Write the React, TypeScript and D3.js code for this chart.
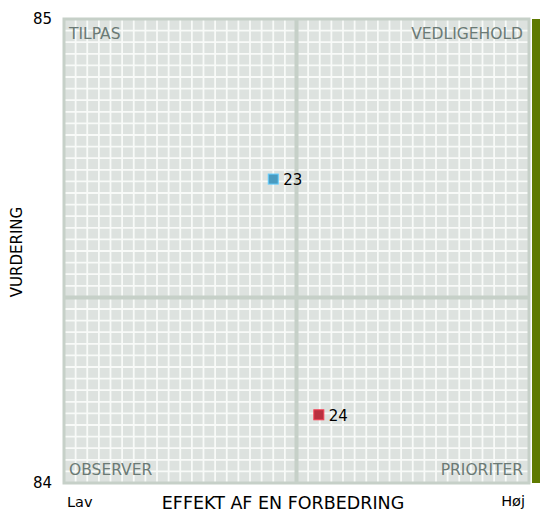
import React, { useEffect, useRef } from 'react';
import * as d3 from 'd3';

// quadrant names, clockwise from top-left
const quadrantNames = ['TILPAS', 'VEDLIGEHOLD', 'PRIORITER', 'OBSERVER'];
const pointIds = ['23', '24'];
const effectValues = [0.45, 0.548];
const ratingValues = [84.655, 84.147];
const pointColors = ['#4a9bc0', '#b8303f'];
const yTicks = [84, 85];
const xEndLabels = ['Lav', 'Høj'];
const ratingSplit = 84.4;

const W = 540;
const H = 513;

const App = () => {
  const ref = useRef<SVGSVGElement>(null);

  useEffect(() => {
    const svg = d3.select(ref.current);
    svg.selectAll('*').remove();

    const left = 64, right = 529, top = 19, bottom = 483;
    const x = d3.scaleLinear().domain([0, 1]).range([left, right]);
    const y = d3.scaleLinear().domain([84, 85]).range([bottom, top]);
    const font = '"DejaVu Sans", Verdana, sans-serif';

    const g = svg.append('g');

    // plot background
    g.append('rect')
      .attr('x', left).attr('y', top)
      .attr('width', right - left).attr('height', bottom - top)
      .attr('fill', '#dde2df');

    // fine white grid
    const cells = 40;
    const gx = d3.scaleLinear().domain([0, cells]).range([left, right]);
    const gy = d3.scaleLinear().domain([0, cells]).range([top, bottom]);
    g.selectAll('.vgrid')
      .data(d3.range(1, cells))
      .enter().append('line')
      .attr('x1', d => gx(d)).attr('x2', d => gx(d))
      .attr('y1', top).attr('y2', bottom)
      .attr('stroke', '#f8faf8').attr('stroke-width', 1.8);
    g.selectAll('.hgrid')
      .data(d3.range(1, cells))
      .enter().append('line')
      .attr('y1', d => gy(d)).attr('y2', d => gy(d))
      .attr('x1', left).attr('x2', right)
      .attr('stroke', '#f8faf8').attr('stroke-width', 1.8);

    // quadrant dividers
    g.append('line')
      .attr('x1', x(0.5)).attr('x2', x(0.5))
      .attr('y1', top).attr('y2', bottom)
      .attr('stroke', '#c6d0c8').attr('stroke-width', 4);
    g.append('line')
      .attr('x1', left).attr('x2', right)
      .attr('y1', y(ratingSplit)).attr('y2', y(ratingSplit))
      .attr('stroke', '#c6d0c8').attr('stroke-width', 4);

    // border
    g.append('rect')
      .attr('x', left).attr('y', top)
      .attr('width', right - left).attr('height', bottom - top)
      .attr('fill', 'none')
      .attr('stroke', '#c6d0c8').attr('stroke-width', 3);

    // green bar on the right
    g.append('rect')
      .attr('x', 532).attr('y', top)
      .attr('width', 8).attr('height', bottom - top)
      .attr('fill', '#5f7a00');

    // quadrant labels
    const qPos = [
      { x: left + 5, y: top + 20, anchor: 'start' },
      { x: right - 6, y: top + 20, anchor: 'end' },
      { x: right - 6, y: bottom - 8, anchor: 'end' },
      { x: left + 5, y: bottom - 8, anchor: 'start' },
    ];
    quadrantNames.forEach((name, i) => {
      g.append('text')
        .attr('x', qPos[i].x).attr('y', qPos[i].y)
        .attr('text-anchor', qPos[i].anchor)
        .style('font-family', font).style('font-size', '15.5px')
        .style('fill', '#6b7a75')
        .text(name);
    });

    // y ticks
    yTicks.forEach(t => {
      g.append('text')
        .attr('x', 52).attr('y', y(t) + 5)
        .attr('text-anchor', 'end')
        .style('font-family', font).style('font-size', '15px')
        .style('fill', '#000')
        .text(String(t));
    });

    // x end labels
    g.append('text')
      .attr('x', x(0) + 3).attr('y', 507)
      .style('font-family', font).style('font-size', '14.5px')
      .text(xEndLabels[0]);
    g.append('text')
      .attr('x', x(1) - 4).attr('y', 506)
      .attr('text-anchor', 'end')
      .style('font-family', font).style('font-size', '14.5px')
      .text(xEndLabels[1]);

    // axis titles
    g.append('text')
      .attr('x', 283).attr('y', 509)
      .attr('text-anchor', 'middle')
      .style('font-family', font).style('font-size', '17.5px')
      .text('EFFEKT AF EN FORBEDRING');
    g.append('text')
      .attr('transform', `translate(22,${252}) rotate(-90)`)
      .attr('text-anchor', 'middle')
      .style('font-family', font).style('font-size', '15px')
      .text('VURDERING');

    // points
    pointIds.forEach((id, i) => {
      const cx = x(effectValues[i]);
      const cy = y(ratingValues[i]);
      g.append('rect')
        .attr('x', cx - 5).attr('y', cy - 5)
        .attr('width', 10).attr('height', 10)
        .attr('fill', pointColors[i])
        .attr('stroke', d3.color(pointColors[i])!.brighter(0.8).formatHex())
        .attr('stroke-width', 1);
      g.append('text')
        .attr('x', cx + 10).attr('y', cy + 6)
        .style('font-family', font).style('font-size', '15px')
        .style('fill', '#000')
        .text(id);
    });
  }, []);

  return (
    <svg ref={ref} width={W} height={H} style={{ position: 'absolute', left: 0, top: 0, display: 'block' }} />
  );
};

export default App;
